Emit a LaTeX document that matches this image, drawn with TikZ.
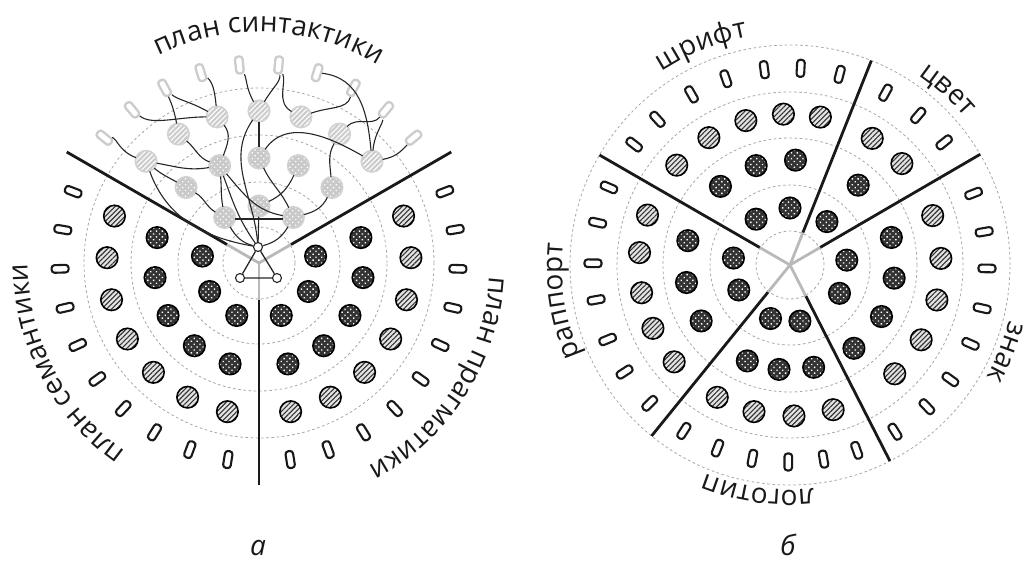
\documentclass[tikz,border=0pt]{standalone}
\usepackage{fontspec}
\setmainfont{Open Sans}
\newfontfamily\lblfamily{Open Sans}
\newcommand\lblfont{\lblfamily\fontsize{28}{34}\selectfont\color{black!90}}
\usetikzlibrary{calc,patterns.meta,decorations.text}

\begin{document}
\begin{tikzpicture}[
  x=1pt, y=1pt,
  ring/.style={gray!70, line width=0.8pt, dash pattern=on 2.6pt off 2.6pt},
  sepline/.style={black!90, line width=2.8pt},
  hubline/.style={gray!55, line width=2.8pt},
  twig/.style={black!85, line width=1.1pt},
  knot/.style={circle, draw=black!85, line width=1.1pt, fill=white, minimum size=9pt, inner sep=0pt},
  disc/.style={circle, minimum size=21.5pt, inner sep=0pt, outer sep=0pt},
  darkdot/.style={disc, fill=black!80,
    postaction={pattern={Dots[distance=4.1pt, radius=0.95pt, angle=45]}, pattern color=white},
    postaction={draw=black, line width=1.6pt}},
  darkhatch/.style={disc, fill=gray!22,
    postaction={pattern={Lines[angle=45, distance=3.5pt, line width=1.1pt]}, pattern color=black!80},
    postaction={draw=black, line width=1.6pt}},
  darkoval/.style={rectangle, rounded corners=3pt, minimum width=17pt, minimum height=7.6pt,
    inner sep=0pt, draw=black!90, line width=2.1pt, fill=white},
  graydot/.style={disc, fill=gray!42,
    postaction={pattern={Dots[distance=4.1pt, radius=0.95pt, angle=45]}, pattern color=white},
    postaction={draw=gray!35, line width=1.6pt}},
  grayhatch/.style={disc, fill=gray!40,
    postaction={pattern={Lines[angle=45, distance=3.5pt, line width=1.1pt]}, pattern color=white},
    postaction={draw=gray!35, line width=1.6pt}},
  grayoval/.style={darkoval, draw=gray!40, line width=2.3pt},
  panel/.style={font=\lblfamily\itshape\fontsize{28}{34}\selectfont, text=black!90, anchor=base, inner sep=0pt},
]
\useasboundingbox (0,0) rectangle (1033,579);

\coordinate (L) at (259,316);
\coordinate (R) at (790,314);

\foreach \r in {36,81,128,175} \draw[ring] (L) circle[radius=\r];
\foreach \r in {34,80,127,173,220} \draw[ring] (R) circle[radius=\r];

\foreach \a [count=\k] in {30,150,270} {
  \coordinate (lin-\k) at ([shift={(\a:37)}]L);
  \coordinate (lout-\k) at ([shift={(\a:222)}]L);
  \draw[hubline] (L) -- (lin-\k);
  \draw[sepline] (lin-\k) -- (lout-\k);
}
\foreach \a [count=\k] in {150,68.3,30.2,297,231} {
  \coordinate (rin-\k) at ([shift={(\a:35)}]R);
  \coordinate (rout-\k) at ([shift={(\a:220)}]R);
  \draw[hubline] (R) -- (rin-\k);
  \draw[sepline] (rin-\k) -- (rout-\k);
}

\foreach \plan/\ctr/\rdot/\rhatch/\roval in {syn/90/graydot/grayhatch/grayoval,
    sem/210/darkdot/darkhatch/darkoval, prag/330/darkdot/darkhatch/darkoval} {
  \foreach \i in {1,...,3}
    \node[\rdot] (\plan-1-\i) at ([shift={({\ctr+37*(\i-2)}:57)}]L) {};
  \foreach \i in {1,...,5}
    \node[\rdot] (\plan-2-\i) at ([shift={({\ctr+22*(\i-3)}:105)}]L) {};
  \foreach \i in {1,...,7}
    \node[\rhatch] (\plan-3-\i) at ([shift={({\ctr+16*(\i-4)}:152)}]L) {};
  \foreach \i in {1,...,10}
    \node[\roval, rotate={\ctr+11.33*(\i-5.5)}] (\plan-4-\i)
      at ([shift={({\ctr+11.33*(\i-5.5)}:199)}]L) {};
}

\node[knot] (root) at (258,332) {};
\node[knot] (foot-l) at (240,301) {};
\node[knot] (foot-r) at (277,301) {};
\draw[twig, line width=1.3pt] (root) -- (foot-l) -- (foot-r) -- (root);

\draw[twig] (syn-4-10) to[out=-30, in=160] (syn-3-7);
\draw[twig] (syn-4-9) to[out=-50, in=180] (syn-3-5);
\draw[twig] (syn-4-8) to[out=-85, in=100] (syn-3-6);
\draw[twig] (syn-4-8) to[out=-60, in=150] (syn-3-5);
\draw[twig] (syn-4-7) to[out=-60, in=95] (syn-3-5);
\draw[twig] (syn-4-6) to[out=-80, in=120] (syn-3-4);
\draw[twig] (syn-4-5) to[out=-100, in=60] (syn-3-4);
\draw[twig] (syn-4-5) to[out=-80, in=150] (syn-3-3);
\draw[twig] (syn-4-4) to[out=-20, in=95] (syn-3-1);
\draw[twig] (syn-4-3) to[out=-120, in=20] (syn-3-3);
\draw[twig] (syn-4-2) to[out=-150, in=45] (syn-3-2);
\draw[twig] (syn-4-2) to[out=-120, in=85] (syn-3-1);
\draw[twig] (syn-4-1) to[out=-150, in=10] (syn-3-1);
\draw[twig] (syn-3-7) to[out=-10, in=190] (syn-2-4);
\draw[twig] (syn-3-7) to[out=-40, in=150] (syn-2-5);
\draw[twig] (syn-3-7) to[out=-70, in=170] (root);
\draw[twig] (syn-3-6) to[out=-40, in=160] (syn-2-4);
\draw[twig] (syn-3-5) to[out=-50, in=70] (syn-2-4);
\draw[twig] (syn-2-4) to[out=-85, in=100] (syn-1-3);
\draw[twig] (syn-2-4) to[out=-70, in=125] (root);
\draw[twig] (syn-2-4) to[out=-50, in=170] (syn-1-1);
\draw[twig] (syn-2-5) to[out=-30, in=150] (syn-1-3);
\draw[twig] (syn-3-4) -- (syn-2-3);
\draw[twig] (syn-3-4) to[out=-125, in=95] (root);
\draw[twig] (syn-2-3) to[out=55, in=150] (syn-3-1);
\draw[twig] (syn-2-3) to[out=-65, in=115] (syn-1-1);
\draw[twig] (syn-2-2) to[out=-115, in=25] (syn-1-2);
\draw[twig] (syn-3-2) to[out=-120, in=95] (syn-2-1);
\draw[twig] (syn-2-1) to[out=-115, in=15] (syn-1-1);
\draw[twig] (syn-1-3.-8) -- (syn-1-1.188);
\draw[twig] (syn-1-3) to[out=-60, in=165] (root);
\draw[twig] (syn-1-2) -- (root);
\draw[twig] (syn-1-1) to[out=-120, in=15] (root);

\foreach \a [count=\i] in {90,126.5,173,206,250,280,330.2,4.9,49.6}
  \node[darkdot] (R-1-\i) at ([shift={(\a:57)}]R) {};
\foreach \a [count=\i] in {87,108.8,131.5,166.6,189.6,212.2,246,264,283,
    307.5,330.6,352.8,15.2,49.5}
  \node[darkdot] (R-2-\i) at ([shift={(\a:105)}]R) {};
\foreach \a [count=\i] in {78.4,92.5,107,122.5,138.6,160.7,175.3,190.6,204.8,219.9,
    241.2,256.2,271.5,286.6,313.9,330.3,346.6,2.5,19.1,42.2,57}
  \node[darkhatch] (R-3-\i) at ([shift={(\a:151)}]R) {};
\foreach \a [count=\i] in {75.4,86.9,97.5,109,120,132.3,142.3,156.8,167.6,179.5,190.2,
    202.2,212.9,224.6,237.4,248.4,259,269.5,279.8,289.8,302.2,314,324.5,336.4,347.3,
    359,9.7,21.3,38.5,49.4,61}
  \node[darkoval, rotate=\a] (R-4-\i) at ([shift={(\a:197)}]R) {};

\path[decorate, decoration={text along path, text align=center, text={|\lblfont|план синтактики}}]
  ([shift={(127.5:231)}]L) arc[start angle=127.5, end angle=47.5, radius=231];
\path[decorate, decoration={text along path, text align=center, text={|\lblfont|план семантики}}]
  ([shift={(247.5:231)}]L) arc[start angle=247.5, end angle=167.5, radius=231];
\path[decorate, decoration={text along path, text align=center, text={|\lblfont|план прагматики}}]
  ([shift={(367.5:231)}]L) arc[start angle=367.5, end angle=287.5, radius=231];

\path[decorate, decoration={text along path, text align=center, text={|\lblfont|шрифт}}]
  ([shift={(142:232)}]R) arc[start angle=142, end angle=82, radius=232];
\path[decorate, decoration={text along path, text align=center, text={|\lblfont|цвет}}]
  ([shift={(78:229)}]R) arc[start angle=78, end angle=18, radius=229];
\path[decorate, decoration={text along path, text align=center, text={|\lblfont|знак}}]
  ([shift={(368:226)}]R) arc[start angle=368, end angle=308, radius=226];
\path[decorate, decoration={text along path, text align=center, text={|\lblfont|логотип}}]
  ([shift={(292:225)}]R) arc[start angle=292, end angle=232, radius=225];
\path[decorate, decoration={text along path, text align=center, text={|\lblfont|раппорт}}]
  ([shift={(219:228)}]R) arc[start angle=219, end angle=159, radius=228];

\node[panel] (cap-a) at (258,24) {а};
\node[panel] (cap-b) at (788,24) {б};
\end{tikzpicture}
\end{document}
